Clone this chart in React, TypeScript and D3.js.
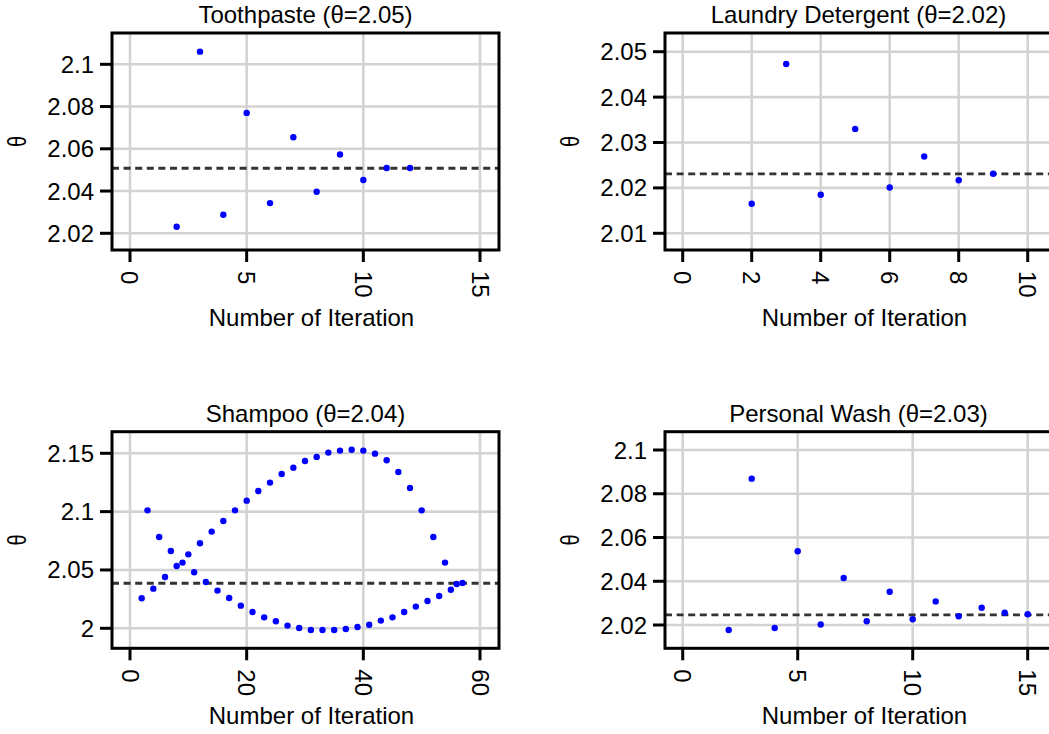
import React from "react";
import * as d3 from "d3";

// ---------- data ----------
const toothpasteIter = [2, 3, 4, 5, 6, 7, 8, 9, 10, 11, 12];
const toothpasteTheta = [2.0231, 2.106, 2.0288, 2.077, 2.0343, 2.0655, 2.0397, 2.0573, 2.0452, 2.0509, 2.0509];
const toothpasteMean = 2.0508;
const toothpasteXTicks = [0, 5, 10, 15];
const toothpasteYTicks = [2.02, 2.04, 2.06, 2.08, 2.1];

const laundryIter = [2, 3, 4, 5, 6, 7, 8, 9];
const laundryTheta = [2.0165, 2.0473, 2.0185, 2.033, 2.0201, 2.0269, 2.0217, 2.0231];
const laundryMean = 2.0231;
const laundryXTicks = [0, 2, 4, 6, 8, 10];
const laundryYTicks = [2.01, 2.02, 2.03, 2.04, 2.05];

const shampooIter = [
  2, 3, 4, 5, 6, 7, 8, 9, 10, 11, 12, 13, 14, 15, 16, 17, 18, 19, 20, 21, 22, 23, 24, 25, 26, 27, 28, 29,
  30, 31, 32, 33, 34, 35, 36, 37, 38, 39, 40, 41, 42, 43, 44, 45, 46, 47, 48, 49, 50, 51, 52, 53, 54, 55, 56, 57,
];
const shampooTheta = [
  2.0257, 2.1011, 2.034, 2.0783, 2.044, 2.0663, 2.0534, 2.0563, 2.0634, 2.048, 2.0729, 2.0397, 2.0829, 2.0323,
  2.092, 2.026, 2.1011, 2.0194, 2.1094, 2.014, 2.1177, 2.0094, 2.1249, 2.006, 2.1323, 2.0023, 2.1377, 2.0003,
  2.1434, 1.9986, 2.1469, 1.9986, 2.1506, 1.9986, 2.1523, 1.9994, 2.1531, 2.0011, 2.1523, 2.0031, 2.1497, 2.0066,
  2.144, 2.0094, 2.134, 2.014, 2.1203, 2.0186, 2.1011, 2.0234, 2.0783, 2.0277, 2.0563, 2.0331, 2.038, 2.0389,
];
const shampooMean = 2.0386;
const shampooXTicks = [0, 20, 40, 60];
const shampooYTicks = [2, 2.05, 2.1, 2.15];

const washIter = [2, 3, 4, 5, 6, 7, 8, 9, 10, 11, 12, 13, 14, 15];
const washTheta = [2.0177, 2.0869, 2.0186, 2.0537, 2.0202, 2.0415, 2.0217, 2.0352, 2.0226, 2.0308, 2.024, 2.0279, 2.0256, 2.0249];
const washMean = 2.0246;
const washXTicks = [0, 5, 10, 15];
const washYTicks = [2.02, 2.04, 2.06, 2.08, 2.1];

const titles = ["Toothpaste (θ=2.05)", "Laundry Detergent (θ=2.02)", "Shampoo (θ=2.04)", "Personal Wash (θ=2.03)"];
const xLabel = "Number of Iteration";
const yLabel = "θ";

// ---------- layout ----------
const W = 1049;
const H = 734;
const FONT = "'Liberation Sans', Arial, sans-serif";
const FS = 24;

type PanelSpec = {
  title: string;
  iter: number[];
  theta: number[];
  mean: number;
  xTicks: number[];
  yTicks: number[];
  xDomain: [number, number];
  yDomain: [number, number];
  box: { x: number; y: number; w: number; h: number };
};

const panels: PanelSpec[] = [
  {
    title: titles[0],
    iter: toothpasteIter,
    theta: toothpasteTheta,
    mean: toothpasteMean,
    xTicks: toothpasteXTicks,
    yTicks: toothpasteYTicks,
    xDomain: [-0.771, 15.814],
    yDomain: [2.01209, 2.11482],
    box: { x: 112, y: 33, w: 387, h: 217 },
  },
  {
    title: titles[1],
    iter: laundryIter,
    theta: laundryTheta,
    mean: laundryMean,
    xTicks: laundryXTicks,
    yTicks: laundryYTicks,
    xDomain: [-0.513, 10.704],
    yDomain: [2.00632, 2.05412],
    box: { x: 665, y: 33, w: 387, h: 217 },
  },
  {
    title: titles[2],
    iter: shampooIter,
    theta: shampooTheta,
    mean: shampooMean,
    xTicks: shampooXTicks,
    yTicks: shampooYTicks,
    xDomain: [-3.086, 63.257],
    yDomain: [1.98286, 2.16851],
    box: { x: 112, y: 431.7, w: 387, h: 216.6 },
  },
  {
    title: titles[3],
    iter: washIter,
    theta: washTheta,
    mean: washMean,
    xTicks: washXTicks,
    yTicks: washYTicks,
    xDomain: [-0.77, 16.057],
    yDomain: [2.00935, 2.10837],
    box: { x: 665, y: 431.7, w: 387, h: 216.6 },
  },
];

const fmt = (v: number) => String(+v.toFixed(4));

function Panel({ p }: { p: PanelSpec }) {
  const { box } = p;
  const x = d3.scaleLinear().domain(p.xDomain).range([box.x, box.x + box.w]);
  const y = d3.scaleLinear().domain(p.yDomain).range([box.y + box.h, box.y]);
  const bottom = box.y + box.h;
  const cx = box.x + box.w / 2;
  const clipId = `clip-${box.x}-${Math.round(box.y)}`;
  return (
    <g>
      <defs>
        <clipPath id={clipId}>
          <rect x={box.x} y={box.y} width={box.w} height={box.h} />
        </clipPath>
      </defs>
      {/* grid */}
      <g stroke="#d3d3d3" strokeWidth={2.6}>
        {p.xTicks.map((t) => (
          <line key={"gx" + t} x1={x(t)} x2={x(t)} y1={box.y} y2={bottom} />
        ))}
        {p.yTicks.map((t) => (
          <line key={"gy" + t} x1={box.x} x2={box.x + box.w} y1={y(t)} y2={y(t)} />
        ))}
      </g>
      {/* mean line */}
      <line
        x1={box.x}
        x2={box.x + box.w}
        y1={y(p.mean)}
        y2={y(p.mean)}
        stroke="#333"
        strokeWidth={2.8}
        strokeDasharray="7 4.6"
      />
      {/* points */}
      <g clipPath={`url(#${clipId})`} fill="#0000ff">
        {p.iter.map((it, i) => (
          <circle key={i} cx={x(it)} cy={y(p.theta[i])} r={3.2} />
        ))}
      </g>
      {/* box */}
      <rect x={box.x} y={box.y} width={box.w} height={box.h} fill="none" stroke="#000" strokeWidth={3} />
      {/* y axis ticks */}
      <g>
        {p.yTicks.map((t) => (
          <g key={"yt" + t}>
            <line x1={box.x - 12} x2={box.x} y1={y(t)} y2={y(t)} stroke="#000" strokeWidth={3} />
            <text
              x={box.x - 18}
              y={y(t)}
              textAnchor="end"
              dominantBaseline="central"
              fontFamily={FONT}
              fontSize={FS}
              fill="#000"
            >
              {fmt(t)}
            </text>
          </g>
        ))}
      </g>
      {/* x axis ticks */}
      <g>
        {p.xTicks.map((t) => (
          <g key={"xt" + t}>
            <line x1={x(t)} x2={x(t)} y1={bottom} y2={bottom + 12} stroke="#000" strokeWidth={3} />
            <text
              transform={`translate(${x(t)},${bottom + 21}) rotate(90)`}
              textAnchor="start"
              dominantBaseline="central"
              fontFamily={FONT}
              fontSize={FS}
              fill="#000"
            >
              {fmt(t)}
            </text>
          </g>
        ))}
      </g>
      {/* title */}
      <text x={cx} y={box.y - 10} textAnchor="middle" fontFamily={FONT} fontSize={FS} fill="#000">
        {p.title}
      </text>
      {/* x label */}
      <text x={cx + 6} y={bottom + 76} textAnchor="middle" fontFamily={FONT} fontSize={FS} fill="#000">
        {xLabel}
      </text>
      {/* y label */}
      <text
        transform={`translate(${box.x - 94},${box.y + box.h / 2}) rotate(-90) scale(0.8,1)`}
        textAnchor="middle"
        dominantBaseline="central"
        fontFamily={FONT}
        fontSize={25}
        fill="#000"
      >
        {yLabel}
      </text>
    </g>
  );
}

export default function App() {
  return (
    <div style={{ position: "absolute", left: 0, top: 0 }}>
      <svg width={W} height={H} style={{ display: "block", background: "#fff" }}>
        <rect x={0} y={0} width={W} height={H} fill="#fff" />
        {panels.map((p, i) => (
          <Panel key={i} p={p} />
        ))}
      </svg>
    </div>
  );
}
